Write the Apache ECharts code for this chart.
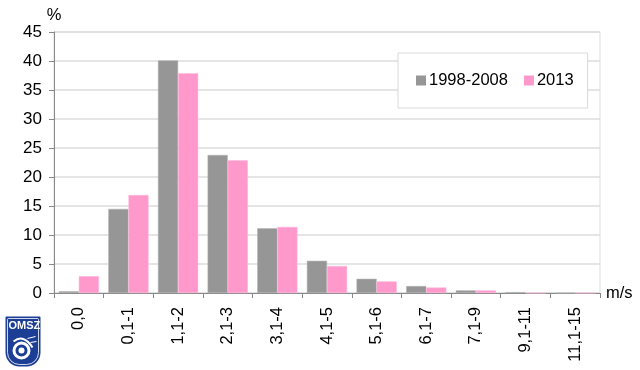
<!DOCTYPE html>
<html>
<head>
<meta charset="utf-8">
<script src="https://cdn.jsdelivr.net/npm/echarts@6/dist/echarts.min.js"></script>
<style>html,body{margin:0;padding:0;background:#fff}#c{width:640px;height:370px}</style>
</head>
<body>
<div id="c"></div>
<script>
var categories = ['0,0','0,1-1','1,1-2','2,1-3','3,1-4','4,1-5','5,1-6','6,1-7','7,1-9','9,1-11','11,1-15'];
var series1998 = [0.3, 14.5, 40.1, 23.8, 11.15, 5.55, 2.45, 1.2, 0.45, 0.15, 0];
var series2013 = [2.9, 16.9, 37.9, 22.9, 11.4, 4.65, 2.0, 0.95, 0.45, 0, 0];
var yTicks = [0, 45, 5];

var chart = echarts.init(document.getElementById('c'), null, {renderer: 'canvas'});
var font = 'Liberation Sans, Arial, sans-serif';
chart.setOption({
  animation: false,
  textStyle: {fontFamily: font},
  grid: {left: 54, right: 40, top: 32, bottom: 77, show: true, borderColor: '#dcdcdc', borderWidth: 1, backgroundColor: 'transparent'},
  legend: {
    left: 398, top: 53,
    backgroundColor: '#fff', borderColor: '#d9d9d9', borderWidth: 1,
    padding: [19, 14, 19, 18],
    itemWidth: 10, itemHeight: 10, itemGap: 16,
    icon: 'rect',
    itemStyle: {borderWidth: 0},
    textStyle: {fontSize: 16.5, color: '#000', fontFamily: font, padding: [0, 0, 0, -2]},
    data: ['1998-2008', '2013']
  },
  xAxis: {
    type: 'category', data: categories,
    name: 'm/s', nameLocation: 'end', nameGap: 6,
    nameTextStyle: {fontSize: 16.5, color: '#000', verticalAlign: 'middle', padding: [6, 0, 0, 0]},
    axisLine: {lineStyle: {color: '#888', width: 1}},
    axisTick: {show: true, alignWithLabel: false, length: 5, lineStyle: {color: '#888'}},
    axisLabel: {rotate: 90, fontSize: 16.5, color: '#000', margin: 14, interval: 0}
  },
  yAxis: {
    type: 'value', min: yTicks[0], max: yTicks[1], interval: yTicks[2],
    name: '%', nameLocation: 'end', nameGap: 7,
    nameTextStyle: {fontSize: 16.5, color: '#000', align: 'center'},
    axisLine: {show: true, lineStyle: {color: '#888', width: 1}},
    axisTick: {show: true, length: 5, lineStyle: {color: '#888'}},
    axisLabel: {fontSize: 17, color: '#000', margin: 12},
    splitLine: {lineStyle: {color: '#dcdcdc', width: 1.5}}
  },
  series: [
    {name: '1998-2008', type: 'bar', data: series1998, barGap: '0%', barCategoryGap: '19%',
     itemStyle: {color: '#969696', borderColor: '#b0b0b0', borderWidth: 0.5}},
    {name: '2013', type: 'bar', data: series2013, barGap: '0%', barCategoryGap: '19%',
     itemStyle: {color: '#ff99cc', borderColor: '#ffb8dc', borderWidth: 0.5}}
  ],
  graphic: [
    {type: 'group', left: 5, top: 316, children: [
      {type: 'rect', shape: {x: 0, y: 0, width: 35, height: 50, r: [1, 1, 14, 14]}, style: {fill: '#1c3e94'}},
      {type: 'rect', shape: {x: 2, y: 2, width: 31, height: 46, r: [1, 1, 12, 12]}, style: {fill: 'none', stroke: '#fff', lineWidth: 0.8}},
      {type: 'text', x: 3, y: 4, style: {text: 'OMSZ', fill: '#fff', font: 'bold 11px ' + font}},
      {type: 'ring', shape: {cx: 16, cy: 34, r: 9, r0: 6}, style: {fill: '#fff'}},
      {type: 'circle', shape: {cx: 16, cy: 34, r: 3}, style: {fill: '#fff'}},
      {type: 'bezierCurve', shape: {x1: 8, y1: 25, cpx1: 18, cpy1: 17, x2: 27, y2: 31}, style: {fill: 'none', stroke: '#fff', lineWidth: 2}},
      {type: 'polyline', shape: {points: [[22, 22], [30, 20]]}, style: {stroke: '#fff', lineWidth: 1}},
      {type: 'polyline', shape: {points: [[25, 26], [31, 25]]}, style: {stroke: '#fff', lineWidth: 1}}
    ]}
  ]
});
</script>
</body>
</html>
